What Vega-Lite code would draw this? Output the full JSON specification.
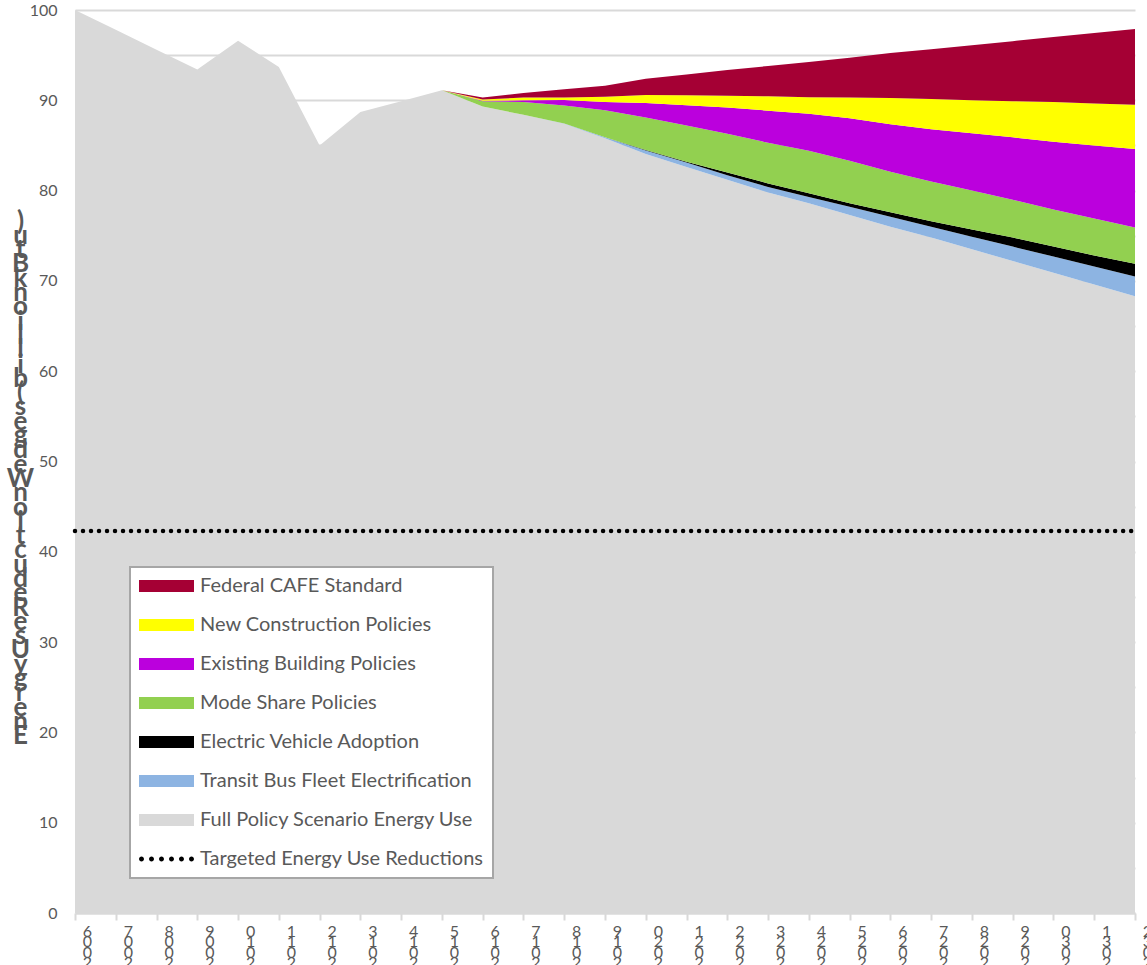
{
  "$schema": "https://vega.github.io/schema/vega-lite/v6.json",
  "width": 1060,
  "height": 903,
  "autosize": {"type": "none"},
  "padding": {"left": 75, "top": 10, "right": 12, "bottom": 52},
  "background": "white",
  "config": {
    "view": {"stroke": null},
    "font": "Lato"
  },
  "datasets": {
    "energy": [
      {"year": 2006, "Full Policy Scenario Energy Use": 100, "Transit Bus Fleet Electrification": 0, "Electric Vehicle Adoption": 0, "Mode Share Policies": 0, "Existing Building Policies": 0, "New Construction Policies": 0, "Federal CAFE Standard": 0, "Targeted Energy Use Reductions": 42.3},
      {"year": 2007, "Full Policy Scenario Energy Use": 97.8, "Transit Bus Fleet Electrification": 0, "Electric Vehicle Adoption": 0, "Mode Share Policies": 0, "Existing Building Policies": 0, "New Construction Policies": 0, "Federal CAFE Standard": 0, "Targeted Energy Use Reductions": 42.3},
      {"year": 2008, "Full Policy Scenario Energy Use": 95.6, "Transit Bus Fleet Electrification": 0, "Electric Vehicle Adoption": 0, "Mode Share Policies": 0, "Existing Building Policies": 0, "New Construction Policies": 0, "Federal CAFE Standard": 0, "Targeted Energy Use Reductions": 42.3},
      {"year": 2009, "Full Policy Scenario Energy Use": 93.4, "Transit Bus Fleet Electrification": 0, "Electric Vehicle Adoption": 0, "Mode Share Policies": 0, "Existing Building Policies": 0, "New Construction Policies": 0, "Federal CAFE Standard": 0, "Targeted Energy Use Reductions": 42.3},
      {"year": 2010, "Full Policy Scenario Energy Use": 96.6, "Transit Bus Fleet Electrification": 0, "Electric Vehicle Adoption": 0, "Mode Share Policies": 0, "Existing Building Policies": 0, "New Construction Policies": 0, "Federal CAFE Standard": 0, "Targeted Energy Use Reductions": 42.3},
      {"year": 2011, "Full Policy Scenario Energy Use": 93.7, "Transit Bus Fleet Electrification": 0, "Electric Vehicle Adoption": 0, "Mode Share Policies": 0, "Existing Building Policies": 0, "New Construction Policies": 0, "Federal CAFE Standard": 0, "Targeted Energy Use Reductions": 42.3},
      {"year": 2012, "Full Policy Scenario Energy Use": 85.0, "Transit Bus Fleet Electrification": 0, "Electric Vehicle Adoption": 0, "Mode Share Policies": 0, "Existing Building Policies": 0, "New Construction Policies": 0, "Federal CAFE Standard": 0, "Targeted Energy Use Reductions": 42.3},
      {"year": 2013, "Full Policy Scenario Energy Use": 88.7, "Transit Bus Fleet Electrification": 0, "Electric Vehicle Adoption": 0, "Mode Share Policies": 0, "Existing Building Policies": 0, "New Construction Policies": 0, "Federal CAFE Standard": 0, "Targeted Energy Use Reductions": 42.3},
      {"year": 2014, "Full Policy Scenario Energy Use": 89.9, "Transit Bus Fleet Electrification": 0, "Electric Vehicle Adoption": 0, "Mode Share Policies": 0, "Existing Building Policies": 0, "New Construction Policies": 0, "Federal CAFE Standard": 0, "Targeted Energy Use Reductions": 42.3},
      {"year": 2015, "Full Policy Scenario Energy Use": 91.1, "Transit Bus Fleet Electrification": 0, "Electric Vehicle Adoption": 0, "Mode Share Policies": 0, "Existing Building Policies": 0, "New Construction Policies": 0, "Federal CAFE Standard": 0, "Targeted Energy Use Reductions": 42.3},
      {"year": 2016, "Full Policy Scenario Energy Use": 89.3, "Transit Bus Fleet Electrification": 0, "Electric Vehicle Adoption": 0, "Mode Share Policies": 0.6, "Existing Building Policies": 0.05, "New Construction Policies": 0.15, "Federal CAFE Standard": 0.2, "Targeted Energy Use Reductions": 42.3},
      {"year": 2017, "Full Policy Scenario Energy Use": 88.4, "Transit Bus Fleet Electrification": 0, "Electric Vehicle Adoption": 0, "Mode Share Policies": 1.4, "Existing Building Policies": 0.2, "New Construction Policies": 0.3, "Federal CAFE Standard": 0.5, "Targeted Energy Use Reductions": 42.3},
      {"year": 2018, "Full Policy Scenario Energy Use": 87.4, "Transit Bus Fleet Electrification": 0.02, "Electric Vehicle Adoption": 0, "Mode Share Policies": 2.0, "Existing Building Policies": 0.6, "New Construction Policies": 0.3, "Federal CAFE Standard": 0.9, "Targeted Energy Use Reductions": 42.3},
      {"year": 2019, "Full Policy Scenario Energy Use": 85.8, "Transit Bus Fleet Electrification": 0.1, "Electric Vehicle Adoption": 0, "Mode Share Policies": 3.0, "Existing Building Policies": 0.9, "New Construction Policies": 0.6, "Federal CAFE Standard": 1.2, "Targeted Energy Use Reductions": 42.3},
      {"year": 2020, "Full Policy Scenario Energy Use": 84.05, "Transit Bus Fleet Electrification": 0.4, "Electric Vehicle Adoption": 0.05, "Mode Share Policies": 3.6, "Existing Building Policies": 1.6, "New Construction Policies": 0.9, "Federal CAFE Standard": 1.8, "Targeted Energy Use Reductions": 42.3},
      {"year": 2021, "Full Policy Scenario Energy Use": 82.6, "Transit Bus Fleet Electrification": 0.5, "Electric Vehicle Adoption": 0.1, "Mode Share Policies": 4.0, "Existing Building Policies": 2.25, "New Construction Policies": 1.1, "Federal CAFE Standard": 2.3, "Targeted Energy Use Reductions": 42.3},
      {"year": 2022, "Full Policy Scenario Energy Use": 81.2, "Transit Bus Fleet Electrification": 0.5, "Electric Vehicle Adoption": 0.3, "Mode Share Policies": 4.3, "Existing Building Policies": 2.9, "New Construction Policies": 1.3, "Federal CAFE Standard": 2.85, "Targeted Energy Use Reductions": 42.3},
      {"year": 2023, "Full Policy Scenario Energy Use": 79.8, "Transit Bus Fleet Electrification": 0.6, "Electric Vehicle Adoption": 0.4, "Mode Share Policies": 4.5, "Existing Building Policies": 3.55, "New Construction Policies": 1.6, "Federal CAFE Standard": 3.35, "Targeted Energy Use Reductions": 42.3},
      {"year": 2024, "Full Policy Scenario Energy Use": 78.6, "Transit Bus Fleet Electrification": 0.7, "Electric Vehicle Adoption": 0.4, "Mode Share Policies": 4.7, "Existing Building Policies": 4.1, "New Construction Policies": 1.85, "Federal CAFE Standard": 3.9, "Targeted Energy Use Reductions": 42.3},
      {"year": 2025, "Full Policy Scenario Energy Use": 77.3, "Transit Bus Fleet Electrification": 0.9, "Electric Vehicle Adoption": 0.4, "Mode Share Policies": 4.7, "Existing Building Policies": 4.7, "New Construction Policies": 2.3, "Federal CAFE Standard": 4.4, "Targeted Energy Use Reductions": 42.3},
      {"year": 2026, "Full Policy Scenario Energy Use": 76.0, "Transit Bus Fleet Electrification": 1.1, "Electric Vehicle Adoption": 0.5, "Mode Share Policies": 4.5, "Existing Building Policies": 5.25, "New Construction Policies": 2.9, "Federal CAFE Standard": 5.0, "Targeted Energy Use Reductions": 42.3},
      {"year": 2027, "Full Policy Scenario Energy Use": 74.8, "Transit Bus Fleet Electrification": 1.2, "Electric Vehicle Adoption": 0.6, "Mode Share Policies": 4.4, "Existing Building Policies": 5.8, "New Construction Policies": 3.35, "Federal CAFE Standard": 5.5, "Targeted Energy Use Reductions": 42.3},
      {"year": 2028, "Full Policy Scenario Energy Use": 73.5, "Transit Bus Fleet Electrification": 1.4, "Electric Vehicle Adoption": 0.8, "Mode Share Policies": 4.3, "Existing Building Policies": 6.35, "New Construction Policies": 3.65, "Federal CAFE Standard": 6.1, "Targeted Energy Use Reductions": 42.3},
      {"year": 2029, "Full Policy Scenario Energy Use": 72.2, "Transit Bus Fleet Electrification": 1.6, "Electric Vehicle Adoption": 1.0, "Mode Share Policies": 4.2, "Existing Building Policies": 6.9, "New Construction Policies": 4.0, "Federal CAFE Standard": 6.65, "Targeted Energy Use Reductions": 42.3},
      {"year": 2030, "Full Policy Scenario Energy Use": 70.9, "Transit Bus Fleet Electrification": 1.8, "Electric Vehicle Adoption": 1.1, "Mode Share Policies": 4.1, "Existing Building Policies": 7.5, "New Construction Policies": 4.4, "Federal CAFE Standard": 7.2, "Targeted Energy Use Reductions": 42.3},
      {"year": 2031, "Full Policy Scenario Energy Use": 69.6, "Transit Bus Fleet Electrification": 2.0, "Electric Vehicle Adoption": 1.2, "Mode Share Policies": 4.1, "Existing Building Policies": 8.1, "New Construction Policies": 4.65, "Federal CAFE Standard": 7.8, "Targeted Energy Use Reductions": 42.3},
      {"year": 2032, "Full Policy Scenario Energy Use": 68.3, "Transit Bus Fleet Electrification": 2.2, "Electric Vehicle Adoption": 1.4, "Mode Share Policies": 4.0, "Existing Building Policies": 8.7, "New Construction Policies": 4.9, "Federal CAFE Standard": 8.4, "Targeted Energy Use Reductions": 42.3}
    ],
    "stackOrder": [
      {"series": "Full Policy Scenario Energy Use", "rank": 0},
      {"series": "Transit Bus Fleet Electrification", "rank": 1},
      {"series": "Electric Vehicle Adoption", "rank": 2},
      {"series": "Mode Share Policies", "rank": 3},
      {"series": "Existing Building Policies", "rank": 4},
      {"series": "New Construction Policies", "rank": 5},
      {"series": "Federal CAFE Standard", "rank": 6}
    ]
  },
  "data": {"name": "energy"},
  "layer": [
    {
      "transform": [
        {"fold": ["Full Policy Scenario Energy Use", "Transit Bus Fleet Electrification", "Electric Vehicle Adoption", "Mode Share Policies", "Existing Building Policies", "New Construction Policies", "Federal CAFE Standard"], "as": ["series", "energy"]},
        {"lookup": "series", "from": {"data": {"name": "stackOrder"}, "key": "series", "fields": ["rank"]}}
      ],
      "mark": {"type": "area", "interpolate": "linear"},
      "encoding": {
        "x": {
          "field": "year",
          "type": "quantitative",
          "scale": {"domain": [2006, 2032], "nice": false, "zero": false},
          "axis": {
            "values": [2006, 2007, 2008, 2009, 2010, 2011, 2012, 2013, 2014, 2015, 2016, 2017, 2018, 2019, 2020, 2021, 2022, 2023, 2024, 2025, 2026, 2027, 2028, 2029, 2030, 2031, 2032],
            "labelExpr": "[substring('' + datum.value, 3, 4), substring('' + datum.value, 2, 3), substring('' + datum.value, 1, 2), substring('' + datum.value, 0, 1)]",
            "labelAngle": 0,
            "labelAlign": "center",
            "labelBaseline": "top",
            "labelOffset": 12,
            "labelPadding": 3,
            "labelFont": "Lato",
            "labelFontSize": 16,
            "labelLineHeight": 10.5,
            "labelColor": "#595959",
            "labelOverlap": false,
            "labelFlush": false,
            "labelBound": false,
            "tickColor": "#d9d9d9",
            "tickSize": 7,
            "tickWidth": 2,
            "domainColor": "#d9d9d9",
            "domainWidth": 2,
            "grid": false,
            "title": null
          }
        },
        "y": {
          "field": "energy",
          "type": "quantitative",
          "stack": "zero",
          "scale": {"domain": [0, 100], "nice": false},
          "axis": {
            "values": [0, 5, 10, 15, 20, 25, 30, 35, 40, 45, 50, 55, 60, 65, 70, 75, 80, 85, 90, 95, 100],
            "labelExpr": "datum.value % 10 === 0 ? datum.label : ''",
            "labelFont": "Lato",
            "labelFontSize": 16,
            "labelColor": "#595959",
            "labelPadding": 18,
            "ticks": false,
            "domain": false,
            "grid": true,
            "gridColor": "#d9d9d9",
            "gridWidth": 2,
            "title": [")", "u", "t", "B", "k", "n", "o", "i", "l", "l", "i", "b", "(", "s", "e", "g", "d", "e", "W", "n", "o", "i", "t", "c", "u", "d", "e", "R", "e", "s", "U", "y", "g", "r", "e", "n", "E"],
            "titleAngle": 0,
            "titleAlign": "center",
            "titleBaseline": "top",
            "titleX": -55,
            "titleY": 198,
            "titleFont": "Lato",
            "titleFontSize": 26,
            "titleFontWeight": "bold",
            "titleLineHeight": 14.3,
            "titleColor": "#595959"
          }
        },
        "color": {
          "field": "series",
          "type": "nominal",
          "scale": {
            "domain": ["Federal CAFE Standard", "New Construction Policies", "Existing Building Policies", "Mode Share Policies", "Electric Vehicle Adoption", "Transit Bus Fleet Electrification", "Full Policy Scenario Energy Use", "Targeted Energy Use Reductions"],
            "range": ["#a50034", "#ffff00", "#bb00dd", "#92d050", "#000000", "#8db4e2", "#d9d9d9", "#000000"]
          },
          "legend": {
            "orient": "none",
            "legendX": 55,
            "legendY": 557,
            "title": null,
            "direction": "vertical",
            "padding": 9,
            "fillColor": "white",
            "strokeColor": "#a6a6a6",
            "symbolType": "M-1,-0.22H1V0.22H-1Z",
            "symbolSize": 3025,
            "symbolStrokeWidth": 0,
            "clipHeight": 20,
            "rowPadding": 19,
            "labelOffset": 6,
            "labelFont": "Lato",
            "labelFontSize": 20,
            "labelColor": "#595959",
            "labelLimit": 400,
            "encode": {
              "legend": {"update": {"strokeWidth": {"value": 2}}},
              "symbols": {
                "update": {
                  "shape": {"signal": "datum.value === 'Targeted Energy Use Reductions' ? 'M-0.999 0A0.09 0.09 0 1 0 -0.819 0A0.09 0.09 0 1 0 -0.999 0Z M-0.635 0A0.09 0.09 0 1 0 -0.455 0A0.09 0.09 0 1 0 -0.635 0Z M-0.272 0A0.09 0.09 0 1 0 -0.092 0A0.09 0.09 0 1 0 -0.272 0Z M0.092 0A0.09 0.09 0 1 0 0.272 0A0.09 0.09 0 1 0 0.092 0Z M0.455 0A0.09 0.09 0 1 0 0.635 0A0.09 0.09 0 1 0 0.455 0Z M0.819 0A0.09 0.09 0 1 0 0.999 0A0.09 0.09 0 1 0 0.819 0Z' : 'M-1,-0.22H1V0.22H-1Z'"},
                  "fill": {"scale": "color", "field": "value"},
                  "stroke": {"value": "transparent"},
                  "opacity": {"value": 1}
                }
              }
            }
          }
        },
        "order": {"field": "rank", "type": "quantitative"}
      }
    },
    {
      "mark": {"type": "line", "strokeDash": [0.001, 8], "strokeCap": "round", "strokeWidth": 4.5},
      "encoding": {
        "x": {"field": "year", "type": "quantitative"},
        "y": {"field": "Targeted Energy Use Reductions", "type": "quantitative"},
        "color": {"datum": "Targeted Energy Use Reductions", "legend": null}
      }
    }
  ]
}
